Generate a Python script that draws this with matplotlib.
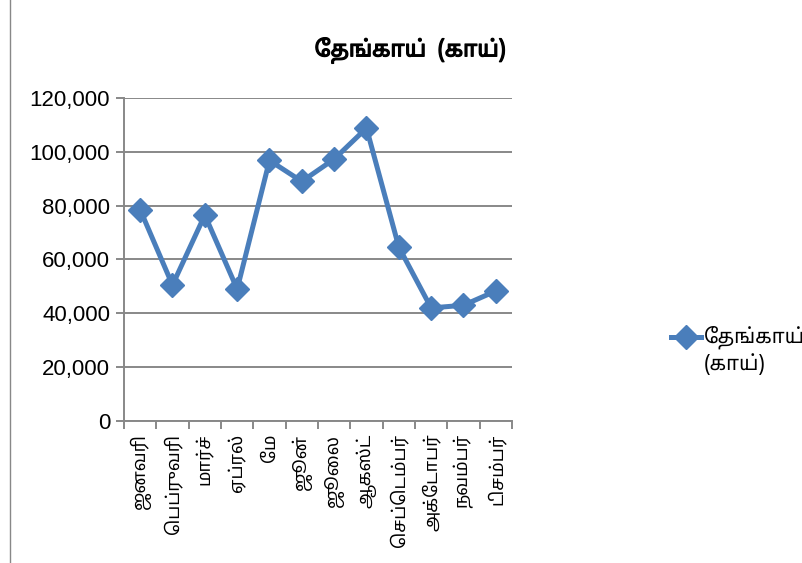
import matplotlib
matplotlib.use("Agg")
import matplotlib.pyplot as plt
import matplotlib.patheffects as pe
from matplotlib.ticker import FuncFormatter

months = ["ஜனவரி", "பெப்ருவரி", "மார்ச்", "ஏப்ரல்", "மே", "ஜூன்",
          "ஜூலை", "ஆகஸ்ட்", "செப்டெம்பர்", "அக்டோபர்", "நவம்பர்", "டிசம்பர்"]
coconut = [78500, 50500, 76500, 49000, 96800, 89000,
           97300, 108800, 64600, 42000, 43000, 48300]
series_name = "தேங்காய்\n(காய்)"
title = "தேங்காய்  (காய்)"
yticks = [0, 20000, 40000, 60000, 80000, 100000, 120000]

TAMIL = ["Noto Sans Tamil", "Lohit Tamil", "DejaVu Sans"]
BLUE = "#4A7EBB"
GRID = "#888888"


def visual(s):
    # matplotlib does no complex shaping: put pre-base vowel signs before the consonant
    s = s.replace("\u0bca", "\u0bc6\u0bbe").replace("\u0bcb", "\u0bc7\u0bbe")
    out = []
    for ch in s:
        if ch in "\u0bc6\u0bc7\u0bc8" and out:
            prev = out.pop()
            out.extend([ch, prev])
        else:
            out.append(ch)
    return "".join(out)


fig = plt.figure(figsize=(8.03, 5.63), dpi=100)
ax = fig.add_axes([0.1544, 0.2522, 0.4832, 0.5738])

x = list(range(len(months)))
ax.plot(x, coconut, color=BLUE, lw=3.6, marker="D", ms=12,
        markeredgecolor=BLUE, label=visual(series_name), zorder=3)

ax.set_xlim(-0.5, len(months) - 0.5)
ax.set_ylim(0, 120000)
ax.set_yticks(yticks)
ax.yaxis.set_major_formatter(FuncFormatter(lambda v, p: f"{int(v):,}"))
ax.grid(axis="y", color=GRID, lw=1.4)
ax.set_axisbelow(True)

ax.set_xticks(x)
ax.set_xticklabels([visual(m) for m in months], rotation=90, family=TAMIL,
                   fontsize=13, va="top")
ax.set_xticks([i - 0.5 for i in range(len(months) + 1)], minor=True)
ax.tick_params(axis="x", which="major", length=0, pad=9)
ax.tick_params(axis="x", which="minor", length=6, color=GRID, width=1.4)
ax.tick_params(axis="y", length=6, color=GRID, width=1.4, pad=4)
for lab in ax.get_yticklabels():
    lab.set_family("Liberation Sans")
    lab.set_fontsize(16)

for side in ("top", "right"):
    ax.spines[side].set_visible(False)
for side in ("left", "bottom"):
    ax.spines[side].set_color(GRID)
    ax.spines[side].set_linewidth(1.4)

# the Tamil font is a variable font, so thicken the title with a stroke
fig.text(0.511, 0.91, visual(title), ha="center", va="center",
         family=TAMIL, fontsize=16,
         path_effects=[pe.withStroke(linewidth=0.9, foreground="black")])

leg = fig.legend(loc="center left", bbox_to_anchor=(0.836, 0.378),
                 frameon=False, handlelength=1.45, handletextpad=0.15,
                 borderaxespad=0, borderpad=0,
                 prop={"family": TAMIL, "size": 14.5}, labelspacing=0)
# Excel puts the legend key level with the first text line
h = leg.legend_handles[0]
h.set_ydata([y + 10 for y in h.get_ydata()])

fig.add_artist(plt.Line2D([0.0125, 0.0125], [0, 1], color="#888888", lw=1.0,
                          transform=fig.transFigure))

fig.savefig("out.png", dpi=100)
